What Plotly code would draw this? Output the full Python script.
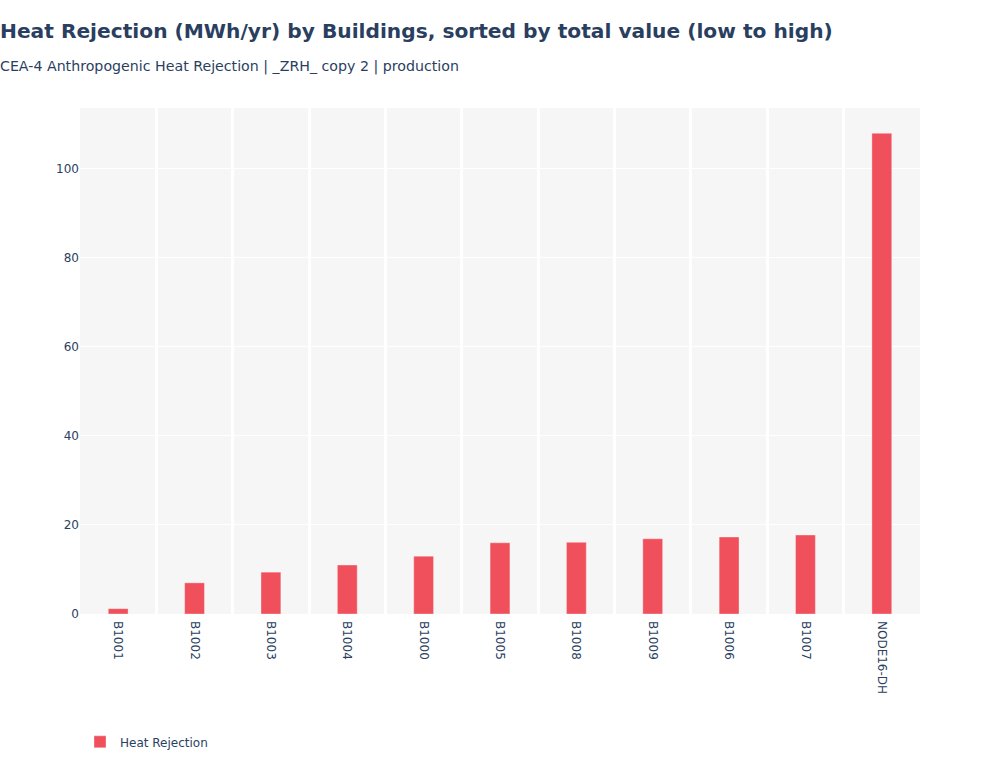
import plotly.graph_objects as go

buildings = ["B1001", "B1002", "B1003", "B1004", "B1000", "B1005",
             "B1008", "B1009", "B1006", "B1007", "NODE16-DH"]
heat_rejection = [1.2, 7.0, 9.4, 11.0, 13.0, 16.0, 16.1, 16.9, 17.3, 17.75, 108.0]

fig = go.Figure()
fig.add_trace(go.Bar(
    x=buildings, y=heat_rejection, name="Heat Rejection",
    marker=dict(color="#F0505C", line=dict(color="rgba(255,255,255,0.35)", width=1)),
    width=0.26, showlegend=True,
))

fig.update_layout(
    width=1000, height=768,
    font=dict(family="DejaVu Sans, Verdana, sans-serif", size=12, color="#2a3f5f"),
    title=dict(
        text="<b>Heat Rejection (MWh/yr) by Buildings, sorted by total value (low to high)</b>",
        x=0, xref="container", xanchor="left", y=0.9595, yref="container", yanchor="middle",
        font=dict(size=20.2, color="#2a3f5f"),
        subtitle=dict(text="CEA-4 Anthropogenic Heat Rejection | _ZRH_ copy 2 | production",
                      font=dict(size=14.2, color="#2a3f5f")),
    ),
    paper_bgcolor="white",
    plot_bgcolor="#f6f6f6",
    margin=dict(l=80, r=80, t=108, b=154, autoexpand=False),
    showlegend=True,
    legend=dict(orientation="h", x=0, xanchor="left", y=-0.224, yanchor="top",
                font=dict(size=12)),
    bargap=0.74,
)
fig.update_xaxes(tickangle=90, showgrid=True, gridcolor="white", gridwidth=3,
                 tickson="boundaries", ticks="", showline=False, zeroline=False,
                 automargin=False, ticklabelstandoff=6)
fig.update_yaxes(showgrid=True, gridcolor="white", gridwidth=1, zeroline=False,
                 tick0=0, dtick=20, ticks="", automargin=False)

fig.write_html("out.html", config={"displayModeBar": False},
               post_script="document.body.style.margin='0';")
